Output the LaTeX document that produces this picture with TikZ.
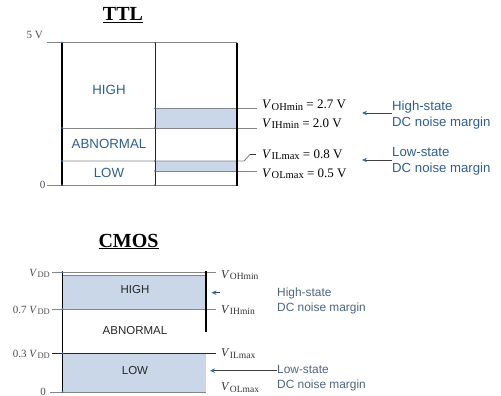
\documentclass[tikz,border=0pt]{standalone}
\usepackage{fontspec}
\setmainfont{Liberation Serif}
\setsansfont{Liberation Sans}
\usetikzlibrary{arrows.meta}

\definecolor{marginfill}{HTML}{C9D7E9}
\definecolor{regionblue}{HTML}{2E5F8E}
\definecolor{notegray}{HTML}{4C6580}
\definecolor{levelgray}{HTML}{858585}
\definecolor{tickblue}{HTML}{2F6DA8}

\tikzset{
  levelline/.style={draw=levelgray, line width=0.9pt},
  rail/.style={draw=black, line width=1.8pt},
  divider/.style={draw=black!85, line width=0.8pt},
  marginbox/.style={fill=marginfill},
  title/.style={font=\fontsize{20}{22}\selectfont\bfseries, inner sep=0pt},
  ttlregion/.style={font=\sffamily\fontsize{13.3}{15}\selectfont, text=regionblue, inner sep=0pt},
  cmosregion/.style={font=\sffamily\fontsize{11.5}{13}\selectfont, text=black!85, inner sep=0pt},
  ttlvolt/.style={font=\fontsize{13}{14}\selectfont, anchor=base west, inner sep=0pt},
  cmosvolt/.style={font=\fontsize{12}{14}\selectfont, anchor=base west, inner sep=0pt, text=black!80},
  axislabel/.style={font=\fontsize{11}{13}\selectfont, anchor=base east, inner sep=0pt, text=black!70},
  ttlnote/.style={font=\sffamily\fontsize{13.2}{16}\selectfont, text=regionblue, align=left, anchor=west, inner sep=0pt},
  cmosnote/.style={font=\sffamily\fontsize{11.9}{15}\selectfont, text=notegray, align=left, anchor=west, inner sep=0pt},
  marginarrow/.style={draw=black!75, line width=0.9pt,
    -{Stealth[length=5pt,width=4.5pt,color=tickblue,fill=tickblue]}},
  junction/.style={fill=tickblue},
}
% italic V with a roman subscript of the given size
\newcommand{\volt}[2][9]{\textit{V}\kern0.3pt\raisebox{-0.32ex}{\fontsize{#1}{#1}\selectfont #2}}

\begin{document}
\begin{tikzpicture}[x=1pt,y=-1pt]
\useasboundingbox (0,0) rectangle (501,396);

% ---------------- TTL ----------------
\node[title] (ttltitle) at (123,15) {\underline{TTL}};

% noise-margin bands
\fill[marginbox] (156,108.2) rectangle (236,128);
\fill[marginbox] (156,161) rectangle (236,171);

% voltage levels
\draw[levelline] (47,42.7) -- (237,42.7);
\draw[levelline] (155,108.2) -- (257,108.2);
\draw[levelline] (62,128) -- (257,128);
\draw[levelline] (62,161) -- (244,161) -- (250,154.5);
\draw[draw=black!80, line width=0.9pt] (250,154.5) -- (256,154.5);
\draw[levelline] (155,171) -- (257,171);
\draw[levelline] (47,185) -- (237,185);

% rails
\draw[rail] (62,42.7) -- (62,185.5);
\draw[divider] (155,42.7) -- (155,185.5);
\draw[rail] (237,42.7) -- (237,185.5);

\foreach \yy in {42.7,128,161,185}{\fill[junction] (62,\yy) circle (1pt);}
\foreach \yy in {42.7,108.2,128,161,171,185}{\fill[junction] (155,\yy) circle (0.9pt);}

\node[axislabel] (ttlfive) at (43,39) {5 V};
\node[axislabel] (ttlzero) at (45.5,188.5) {0};

\node[ttlregion] (ttlhigh) at (109,90) {HIGH};
\node[ttlregion] (ttlabn) at (109,144) {ABNORMAL};
\node[ttlregion] (ttllow) at (109,173) {LOW};

\node[ttlvolt] (voh) at (262,108.5) {\volt[10.5]{OHmin} = 2.7 V};
\node[ttlvolt] (vih) at (262,127) {\volt[10.5]{IHmin} = 2.0 V};
\node[ttlvolt] (vil) at (262,158) {\volt[10.5]{ILmax} = 0.8 V};
\node[ttlvolt] (vol) at (262,177) {\volt[10.5]{OLmax} = 0.5 V};

\node[ttlnote] (ttlhs) at (392,115) {High-state\\DC noise margin};
\node[ttlnote] (ttlls) at (392,161) {Low-state\\DC noise margin};
\coordinate (ttlhstip) at (362,113);
\coordinate (ttllstip) at (362,160);
\draw[marginarrow] (ttlhs.west |- ttlhstip) -- (ttlhstip);
\draw[marginarrow] (ttlls.west |- ttllstip) -- (ttllstip);

% ---------------- CMOS ----------------
\node[title] (cmostitle) at (128.5,241.5) {\underline{CMOS}};

\fill[marginbox] (63,274.5) rectangle (206,309);
\fill[marginbox] (63,353) rectangle (206,391.5);

\draw[levelline] (52,272) -- (216,272);
\draw[draw=levelgray, line width=0.6pt] (63,274.8) -- (206,274.8);
\draw[levelline] (52,309) -- (216,309);
\draw[draw=black!85, line width=0.9pt] (52,353) -- (216,353);
\draw[levelline] (50,392) -- (206,392);

\draw[rail] (62.5,271) -- (62.5,393);
\draw[rail] (206,271) -- (206,332);

\foreach \yy in {272,309,353,392}{\fill[junction] (62.5,\yy) circle (1pt);}

\node[axislabel] (cmosvdd) at (50,276) {\volt[8.5]{DD}};
\node[axislabel] (cmosseven) at (50,313) {0.7 \volt[8.5]{DD}};
\node[axislabel] (cmosthree) at (50,357) {0.3 \volt[8.5]{DD}};
\node[axislabel] (cmoszero) at (46,395) {0};

\node[cmosregion] (cmoshigh) at (135,290) {HIGH};
\node[cmosregion] (cmosabn) at (135,331) {ABNORMAL};
\node[cmosregion] (cmoslow) at (135,371) {LOW};

\node[cmosvolt] (cvoh) at (221,278) {\volt[9.5]{OHmin}};
\node[cmosvolt] (cvih) at (221,313) {\volt[9.5]{IHmin}};
\node[cmosvolt] (cvil) at (221,356.5) {\volt[9.5]{ILmax}};
\node[cmosvolt] (cvol) at (221,390.5) {\volt[9.5]{OLmax}};

\node[cmosnote] (cmoshs) at (277,300.5) {High-state\\DC noise margin};
\node[cmosnote] (cmosls) at (277,378) {Low-state\\DC noise margin};
\coordinate (cmoshstail) at (220,292.7);
\coordinate (cmoshstip) at (211.5,292.7);
\coordinate (cmoslstip) at (210,370.7);
\draw[marginarrow] (cmoshstail) -- (cmoshstip);
\draw[marginarrow] (cmosls.west |- cmoslstip) -- (cmoslstip);
\end{tikzpicture}
\end{document}
